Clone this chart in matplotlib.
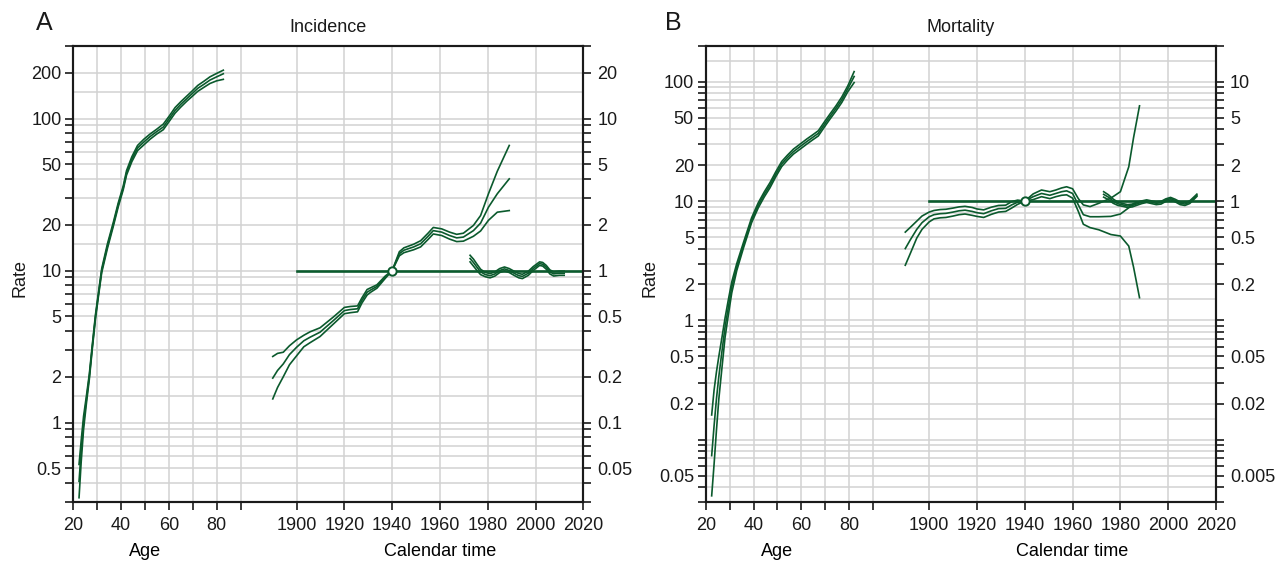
import numpy as np
import matplotlib
matplotlib.use("Agg")
import matplotlib.pyplot as plt
import matplotlib.transforms as mtransforms
from matplotlib.ticker import NullLocator

plt.rcParams['font.family'] = ['Liberation Sans', 'DejaVu Sans']
plt.rcParams['font.size'] = 13

GREEN = '#0b5a2d'
GRID = '#d2d2d2'
INK = '#1a1a1a'
OFFSET = 1786.5  # calendar year -> position on the shared age/calendar axis

# ---------------- Incidence (panel A) ----------------
age_a = [22.4, 23.3, 24.3, 25.5, 26.7, 28.0, 29.3, 30.6, 31.9, 34.3, 36.7, 38.8,
         40.9, 42.3, 44.5, 46.9, 49.5, 52.1, 54.9, 57.7, 60.2, 62.6, 65.0, 67.5,
         69.8, 72.1, 74.7, 77.2, 80.0, 82.8]
age_a_mid = [0.41, 0.65, 1.0, 1.42, 2.0, 3.2, 5.0, 7.1, 10, 14.5, 20, 27,
             35, 44, 54, 64, 70, 76, 82, 88, 100, 113, 124, 135,
             146, 158, 168, 179, 188, 197]
age_a_lo = [0.32, 0.55, 0.9, 1.34, 1.92, 3.1, 4.85, 6.9, 9.7, 14.0, 19.4, 26.2,
            34, 42.5, 52, 61.5, 67, 73, 79, 84.5, 96, 108.5, 119, 130,
            140, 151, 160.5, 170, 177, 181]
age_a_hi = [0.53, 0.76, 1.1, 1.5, 2.08, 3.3, 5.15, 7.3, 10.3, 15.0, 20.6, 27.8,
            36, 45.5, 56, 66.5, 73, 79, 85, 92, 104, 118, 129, 140.5,
            152, 165, 176, 188, 198, 208]

coh_a = [1890, 1892, 1894.4, 1897, 1900, 1903, 1905.6, 1909.8, 1915.4, 1920, 1922.5,
         1925.5, 1927.3, 1929.5, 1931, 1933.6, 1937.1, 1940, 1943, 1944.9, 1949,
         1951.9, 1955, 1957.2, 1960.7, 1964, 1967, 1969.8, 1974, 1977, 1980.3, 1984, 1989]
coh_a_mid = [0.196, 0.22, 0.243, 0.28, 0.313, 0.345, 0.364, 0.393, 0.469, 0.545, 0.554,
             0.56, 0.635, 0.72, 0.745, 0.785, 0.904, 1.0, 1.29, 1.36, 1.43,
             1.50, 1.68, 1.83, 1.79, 1.70, 1.64, 1.66, 1.83, 2.05, 2.61, 3.2, 4.01]
coh_a_hi = [0.272, 0.285, 0.29, 0.32, 0.35, 0.375, 0.395, 0.42, 0.495, 0.572, 0.58,
            0.585, 0.66, 0.75, 0.77, 0.805, 0.92, 1.0, 1.33, 1.41, 1.49,
            1.57, 1.76, 1.92, 1.88, 1.79, 1.73, 1.76, 1.98, 2.30, 3.2, 4.5, 6.65]
coh_a_lo = [0.143, 0.17, 0.2, 0.24, 0.275, 0.315, 0.335, 0.368, 0.445, 0.52, 0.528,
            0.535, 0.61, 0.69, 0.72, 0.765, 0.888, 1.0, 1.25, 1.31, 1.37,
            1.43, 1.60, 1.74, 1.70, 1.61, 1.55, 1.56, 1.68, 1.82, 2.14, 2.42, 2.48]

per_a = [1972.6, 1974, 1975.5, 1977, 1979, 1981, 1983, 1985, 1987, 1989, 1991,
         1993, 1994.5, 1997, 1999, 2001.7, 2003, 2004.5, 2006, 2007.6, 2010, 2012]
per_a_mid = [1.2, 1.13, 1.05, 0.98, 0.94, 0.925, 0.95, 1.0, 1.025, 1.0, 0.96,
             0.925, 0.915, 0.96, 1.03, 1.11, 1.10, 1.05, 0.98, 0.95, 0.96, 0.96]
per_a_hi = [1.26, 1.19, 1.1, 1.02, 0.97, 0.955, 0.98, 1.03, 1.055, 1.03, 0.99,
            0.955, 0.945, 0.99, 1.06, 1.14, 1.13, 1.08, 1.01, 0.98, 0.99, 0.99]
per_a_lo = [1.14, 1.07, 1.0, 0.94, 0.91, 0.895, 0.92, 0.97, 0.995, 0.97, 0.93,
            0.895, 0.885, 0.93, 1.0, 1.08, 1.07, 1.02, 0.95, 0.92, 0.93, 0.93]

# ---------------- Mortality (panel B) ----------------
age_b = [22.5, 23.5, 24.5, 25.5, 26.8, 28.1, 29.5, 30.9, 33.0, 35.8, 39.2, 42.0,
         44.5, 46.9, 49.3, 51.8, 54.2, 56.7, 59.5, 62.3, 64.7, 67.1, 69.5, 72.0,
         74.5, 76.9, 79.5, 82.1]
age_b_mid = [0.0734, 0.13, 0.22, 0.34, 0.55, 0.88, 1.3, 1.9, 2.81, 4.27, 6.92, 9.25,
             11.4, 13.6, 16.8, 20.5, 23.2, 26.0, 28.7, 31.6, 34.2, 37.0, 43.5, 51.2,
             60, 70.6, 88, 111]
age_b_hi = [0.161, 0.26, 0.37, 0.5, 0.72, 1.05, 1.5, 2.1, 3.0, 4.5, 7.25, 9.7,
            11.95, 14.3, 17.6, 21.5, 24.3, 27.3, 30.1, 33.2, 35.9, 38.9, 45.7, 53.8,
            63, 74.5, 93, 122]
age_b_lo = [0.0338, 0.062, 0.12, 0.22, 0.4, 0.72, 1.12, 1.7, 2.62, 4.05, 6.6, 8.8,
            10.85, 12.95, 16, 19.5, 22.1, 24.8, 27.3, 30.1, 32.6, 35.2, 41.4, 48.8,
            57, 67, 83, 98.7]

coh_b = [1890, 1892, 1894.8, 1897, 1900, 1902, 1904.6, 1907, 1910, 1912.5, 1915, 1918,
         1920, 1922.8, 1926, 1929, 1932, 1934.5, 1937, 1940, 1943.5, 1947, 1950.5, 1953,
         1955.4, 1957.5, 1960, 1962.4, 1964.5, 1967.3, 1971, 1976, 1980, 1983.5, 1985.5, 1988]
coh_b_mid = [0.40, 0.47, 0.58, 0.66, 0.74, 0.77, 0.785, 0.79, 0.81, 0.83, 0.84, 0.82,
             0.80, 0.785, 0.83, 0.865, 0.87, 0.93, 0.98, 1.0, 1.09, 1.16, 1.12, 1.16,
             1.2, 1.22, 1.16, 0.93, 0.77, 0.74, 0.74, 0.745, 0.78, 0.88, 0.95, 0.99]
coh_b_hi = [0.55, 0.6, 0.68, 0.75, 0.81, 0.835, 0.85, 0.855, 0.875, 0.895, 0.905, 0.885,
            0.86, 0.845, 0.89, 0.92, 0.925, 0.99, 1.02, 1.0, 1.15, 1.24, 1.2, 1.24,
            1.29, 1.32, 1.27, 1.05, 0.93, 0.9, 0.96, 1.06, 1.2, 1.94, 3.4, 6.3]
coh_b_lo = [0.29, 0.36, 0.49, 0.58, 0.67, 0.71, 0.725, 0.73, 0.75, 0.77, 0.78, 0.76,
            0.745, 0.73, 0.775, 0.81, 0.82, 0.875, 0.94, 1.0, 1.03, 1.09, 1.05, 1.09,
            1.12, 1.13, 1.06, 0.82, 0.64, 0.6, 0.575, 0.525, 0.51, 0.42, 0.28, 0.155]

per_b = [1973, 1975, 1977, 1979, 1981, 1983, 1985, 1987, 1989, 1991, 1993,
         1995, 1997, 1999, 2001, 2003, 2005, 2007, 2009, 2011, 2012]
per_b_mid = [1.14, 1.08, 1.0, 0.95, 0.93, 0.91, 0.92, 0.95, 0.98, 1.0, 0.98,
             0.96, 0.97, 1.02, 1.05, 1.01, 0.96, 0.945, 0.98, 1.07, 1.12]
per_b_hi = [1.2, 1.13, 1.04, 0.98, 0.955, 0.935, 0.945, 0.975, 1.005, 1.025, 1.005,
            0.985, 0.995, 1.045, 1.075, 1.035, 0.985, 0.97, 1.005, 1.095, 1.145]
per_b_lo = [1.08, 1.03, 0.96, 0.92, 0.905, 0.885, 0.895, 0.925, 0.955, 0.975, 0.955,
            0.935, 0.945, 0.995, 1.025, 0.985, 0.935, 0.92, 0.955, 1.045, 1.095]

age_ticks = [20, 30, 40, 50, 60, 70, 80, 90]
age_labels = ['20', '', '40', '', '60', '', '80', '']
cal_ticks = [1900, 1920, 1940, 1960, 1980, 2000, 2020]
ref_year = 1940


def cal(years):
    return np.asarray(years, dtype=float) - OFFSET


def log_positions(lo, hi, mults):
    out = []
    for k in range(-4, 4):
        for m in mults:
            v = m * 10.0 ** k
            if lo * 0.999 <= v <= hi * 1.001:
                out.append(v)
    return out


def set_log_ticks(axis_ax, ylim, labelled):
    pos = log_positions(ylim[0], ylim[1], [1, 2, 3, 4, 5, 6, 7, 8, 9])
    labs = []
    for v in pos:
        hit = [l for l in labelled if abs(l - v) / v < 1e-6]
        labs.append('%g' % hit[0] if hit else '')
    axis_ax.set_yticks(pos, labs)
    axis_ax.yaxis.set_minor_locator(NullLocator())


def panel(rect, ylim, left_labels, right_labels, age, a_lo, a_mid, a_hi,
          coh, c_lo, c_mid, c_hi, per, p_lo, p_mid, p_hi):
    ax = fig.add_axes(rect)
    ax.set_yscale('log')
    ax.set_xlim(20, cal(2020))
    ax.set_ylim(*ylim)

    for v in log_positions(ylim[0], ylim[1], [1, 1.5, 2, 3, 4, 5, 6, 7, 8, 9]):
        ax.axhline(v, color=GRID, lw=1.1, zorder=0)
    for a in age_ticks[1:]:
        ax.axvline(a, color=GRID, lw=1.1, zorder=0)
    for y in cal_ticks[:-1]:
        ax.axvline(cal(y), color=GRID, lw=1.1, zorder=0)

    xt = list(age_ticks) + list(cal(cal_ticks))
    xl = age_labels + [str(y) for y in cal_ticks]
    ax.set_xticks(xt, xl)
    ax.xaxis.set_minor_locator(NullLocator())
    set_log_ticks(ax, ylim, left_labels)

    for line in (a_lo, a_mid, a_hi):
        ax.plot(age, line, color=GREEN, lw=1.2, zorder=3)

    ax2 = ax.twinx()
    ax2.set_yscale('log')
    ax2.set_ylim(ylim[0] / 10, ylim[1] / 10)
    set_log_ticks(ax2, (ylim[0] / 10, ylim[1] / 10), right_labels)

    ax2.plot(cal([1900, 2020]), [1, 1], color=GREEN, lw=1.9, zorder=2)
    for line in (c_lo, c_mid, c_hi):
        ax2.plot(cal(coh), line, color=GREEN, lw=1.2, zorder=3)
    for line in (p_lo, p_mid, p_hi):
        ax2.plot(cal(per), line, color=GREEN, lw=1.2, zorder=3)
    ax2.plot(cal(ref_year), 1, 'o', ms=6, mfc='white', mec=GREEN, mew=1.4, zorder=4)

    for a in (ax, ax2):
        for s in a.spines.values():
            s.set_linewidth(1.5)
            s.set_color(INK)
        a.tick_params(length=5.5, width=1.2, color=INK, labelcolor=INK)
    ax.tick_params(axis='x', pad=5.5)
    ax.tick_params(axis='y', pad=3)
    ax2.tick_params(axis='y', pad=4.5)

    tr = mtransforms.blended_transform_factory(ax.transData, fig.transFigure)
    ax.text(50, 5 / H, 'Age', transform=tr, ha='center', va='baseline')
    ax.text(cal(1960), 5 / H, 'Calendar time', transform=tr, ha='center', va='baseline')
    return ax


W, H = 1286, 561
fig = plt.figure(figsize=(W / 100, H / 100), dpi=100)

axA = panel([73.3 / W, 59 / H, 510 / W, 456 / H], (0.3, 300),
            [200, 100, 50, 20, 10, 5, 2, 1, 0.5],
            [20, 10, 5, 2, 1, 0.5, 0.2, 0.1, 0.05],
            age_a, age_a_lo, age_a_mid, age_a_hi,
            coh_a, coh_a_lo, coh_a_mid, coh_a_hi,
            per_a, per_a_lo, per_a_mid, per_a_hi)
axB = panel([705.7 / W, 59 / H, 510.3 / W, 456 / H], (0.03, 200),
            [100, 50, 20, 10, 5, 2, 1, 0.5, 0.2, 0.05],
            [10, 5, 2, 1, 0.5, 0.2, 0.05, 0.02, 0.005],
            age_b, age_b_lo, age_b_mid, age_b_hi,
            coh_b, coh_b_lo, coh_b_mid, coh_b_hi,
            per_b, per_b_lo, per_b_mid, per_b_hi)

fig.text(44 / W, 1 - 23.5 / H, 'A', fontsize=18, ha='center', va='center', color=INK)
fig.text(673 / W, 1 - 23.5 / H, 'B', fontsize=18, ha='center', va='center', color=INK)
fig.text((73.3 + 255) / W, 1 - 31.7 / H, 'Incidence', ha='center', va='baseline', color=INK)
fig.text((705.7 + 255) / W, 1 - 31.7 / H, 'Mortality', ha='center', va='baseline', color=INK)
fig.text(20 / W, 1 - 278 / H, 'Rate', rotation=90, ha='center', va='center', color=INK)
fig.text(650 / W, 1 - 278 / H, 'Rate', rotation=90, ha='center', va='center', color=INK)

fig.savefig('out.png', dpi=100)
